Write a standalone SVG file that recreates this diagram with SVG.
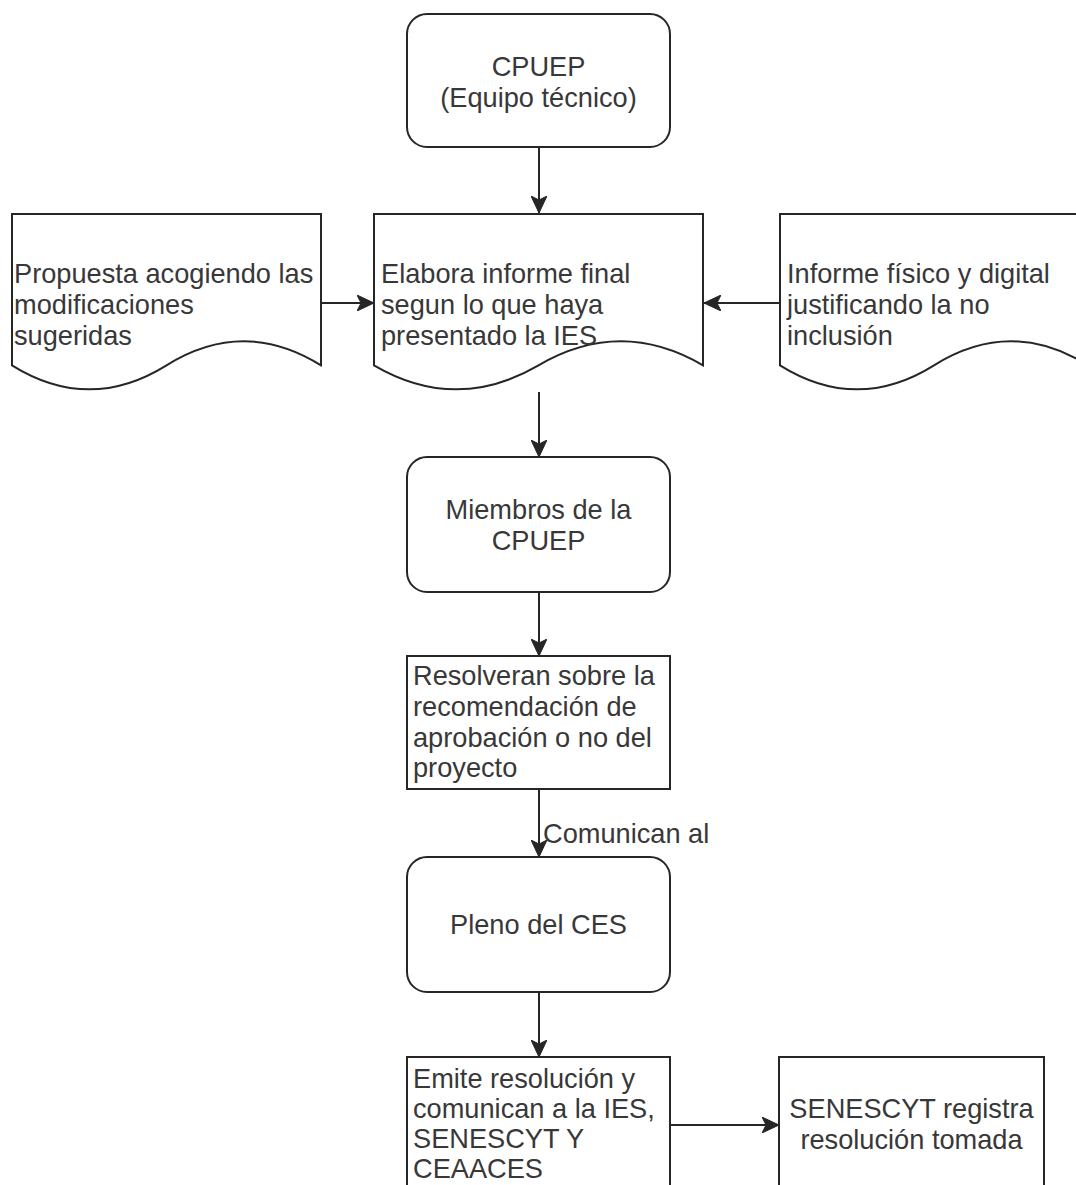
<svg xmlns="http://www.w3.org/2000/svg" width="1076" height="1185" viewBox="0 0 1076 1185">
<style>
.shape{fill:#ffffff;stroke:#262626;stroke-width:2}
.edge{fill:none;stroke:#262626;stroke-width:2}
text{font-family:"Liberation Sans",Arial,sans-serif;font-size:27.2px;fill:#383838}
.c{text-anchor:middle}
</style>
<defs>
<marker id="arr" viewBox="0 0 18 16" refX="17" refY="8" markerWidth="18" markerHeight="16" markerUnits="userSpaceOnUse" orient="auto">
<path d="M0,0 L17,8 L0,16 L4,8 Z" fill="#262626" stroke="#262626" stroke-width="1"/>
</marker>
</defs>
<rect width="1076" height="1185" fill="#ffffff"/>
<g id="connectors">
<line class="edge" x1="539" y1="147" x2="539" y2="213" marker-end="url(#arr)"/>
<line class="edge" x1="321" y1="303" x2="374" y2="303" marker-end="url(#arr)"/>
<line class="edge" x1="780" y1="303" x2="704" y2="303" marker-end="url(#arr)"/>
<line class="edge" x1="539" y1="392" x2="539" y2="457" marker-end="url(#arr)"/>
<line class="edge" x1="539" y1="592" x2="539" y2="656" marker-end="url(#arr)"/>
<line class="edge" x1="539" y1="789" x2="539" y2="857" marker-end="url(#arr)"/>
<text x="543" y="843">Comunican al</text>
<line class="edge" x1="539" y1="992" x2="539" y2="1057" marker-end="url(#arr)"/>
<line class="edge" x1="670" y1="1125" x2="779" y2="1125" marker-end="url(#arr)"/>
</g>
<g id="n_cpuep">
<rect class="shape" x="407" y="14" width="263" height="133" rx="20" ry="20"/>
<text class="c" x="538.5" y="76">CPUEP</text>
<text class="c" x="538.5" y="107">(Equipo técnico)</text>
</g>
<g id="n_propuesta">
<path class="shape" d="M12,214 H321 V365.3 Q243.75,317.2 166.5,365.3 Q89.25,413.4 12,365.3 Z"/>
<text x="14" y="283">Propuesta acogiendo las</text>
<text x="14" y="314">modificaciones</text>
<text x="14" y="345">sugeridas</text>
</g>
<g id="n_elabora">
<path class="shape" d="M374,214 H703 V365.3 Q620.75,317.2 538.5,365.3 Q456.25,413.4 374,365.3 Z"/>
<text x="381" y="283">Elabora informe final</text>
<text x="381" y="314">segun lo que haya</text>
<text x="381" y="345">presentado la IES</text>
</g>
<g id="n_informe">
<path class="shape" d="M780,214 H1088 V365.3 Q1011,317.2 934,365.3 Q857,413.4 780,365.3 Z"/>
<text x="787" y="283">Informe físico y digital</text>
<text x="787" y="314">justificando la no</text>
<text x="787" y="345">inclusión</text>
</g>
<g id="n_miembros">
<rect class="shape" x="407" y="457" width="263" height="135" rx="20" ry="20"/>
<text class="c" x="538.5" y="519">Miembros de la</text>
<text class="c" x="538.5" y="550">CPUEP</text>
</g>
<g id="n_resolveran">
<rect class="shape" x="407" y="656" width="263" height="133"/>
<text x="413" y="685">Resolveran sobre la</text>
<text x="413" y="716">recomendación de</text>
<text x="413" y="747">aprobación o no del</text>
<text x="413" y="777">proyecto</text>
</g>
<g id="n_pleno">
<rect class="shape" x="407" y="857" width="263" height="135" rx="20" ry="20"/>
<text class="c" x="538.5" y="934">Pleno del CES</text>
</g>
<g id="n_emite">
<rect class="shape" x="407" y="1057" width="263" height="140"/>
<text x="413" y="1088">Emite resolución y</text>
<text x="413" y="1118">comunican a la IES,</text>
<text x="413" y="1148">SENESCYT Y</text>
<text x="413" y="1178">CEAACES</text>
</g>
<g id="n_senescyt">
<rect class="shape" x="779" y="1057" width="265" height="140"/>
<text class="c" x="911.5" y="1118">SENESCYT registra</text>
<text class="c" x="911.5" y="1149">resolución tomada</text>
</g>
</svg>
